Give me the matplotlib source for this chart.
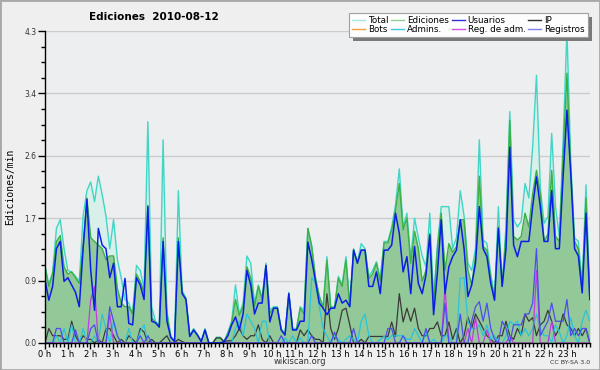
import numpy as np
import matplotlib
matplotlib.use("Agg")
import matplotlib.pyplot as plt
from matplotlib.lines import Line2D
from matplotlib.patches import Rectangle
from matplotlib.ticker import MultipleLocator, FixedLocator, FormatStrFormatter

# --- data: edits per minute, one value every 10 minutes (144 points) ---
total = [
    1.07, 0.80, 0.98, 1.58, 1.70, 1.30,
    1.00, 0.98, 0.92, 0.85, 1.75, 2.10,
    2.22, 1.95, 2.30, 2.05, 1.75, 1.30,
    1.70, 1.15, 0.90, 0.60, 0.55, 0.40,
    1.07, 1.00, 0.75, 3.05, 0.50, 0.30,
    0.25, 2.80, 0.45, 0.10, 0.02, 2.10,
    0.72, 0.62, 0.10, 0.20, 0.12, 0.02,
    0.20, 0.00, 0.00, 0.08, 0.08, 0.02,
    0.15, 0.30, 0.80, 0.40, 0.55, 1.20,
    1.10, 0.55, 0.80, 0.62, 1.10, 0.45,
    0.50, 0.50, 0.20, 0.12, 0.70, 0.20,
    0.20, 0.50, 0.45, 1.58, 1.35, 0.90,
    0.65, 0.50, 1.19, 0.50, 0.50, 0.92,
    0.80, 1.19, 0.52, 1.30, 1.12, 1.37,
    1.30, 0.92, 1.00, 1.12, 0.88, 1.40,
    1.40, 1.60, 1.90, 2.40, 1.60, 1.79,
    1.15, 1.72, 1.45, 1.20, 1.05, 1.79,
    0.60, 1.35, 1.88, 1.88, 1.88, 1.30,
    1.45, 2.10, 1.75, 1.10, 1.00, 1.30,
    2.80, 1.42, 1.37, 0.95, 0.64, 1.88,
    0.80, 1.60, 3.19, 1.70, 1.60, 1.68,
    2.20, 2.00, 2.70, 3.69, 2.15, 1.65,
    1.74, 2.89, 1.88, 1.47, 2.80, 4.30,
    2.50, 1.45, 1.40, 0.82, 2.18, 0.65,
]
ediciones = [
    1.05, 0.78, 0.95, 1.40, 1.48, 1.05,
    0.95, 0.98, 0.90, 0.82, 1.35, 2.00,
    1.45, 1.40, 1.35, 1.30, 1.15, 1.20,
    1.20, 0.75, 0.55, 0.50, 0.50, 0.40,
    0.95, 0.85, 0.70, 1.90, 0.35, 0.28,
    0.22, 1.45, 0.40, 0.08, 0.02, 1.45,
    0.70, 0.60, 0.09, 0.18, 0.11, 0.02,
    0.18, 0.00, 0.00, 0.07, 0.07, 0.02,
    0.13, 0.28, 0.60, 0.38, 0.50, 1.05,
    0.90, 0.50, 0.78, 0.60, 1.07, 0.41,
    0.48, 0.48, 0.18, 0.11, 0.68, 0.18,
    0.18, 0.48, 0.40, 1.58, 1.33, 0.89,
    0.64, 0.48, 1.14, 0.48, 0.48, 0.89,
    0.78, 1.14, 0.50, 1.28, 1.10, 1.28,
    1.28, 0.89, 0.95, 1.10, 0.85, 1.38,
    1.38, 1.56, 1.83, 2.20, 1.56, 1.72,
    1.10, 1.54, 1.30, 0.85, 1.00, 1.51,
    0.55, 1.30, 1.79, 1.00, 1.37, 1.25,
    1.33, 1.70, 1.70, 1.00, 0.80, 1.20,
    2.30, 1.33, 1.28, 0.89, 0.59, 1.60,
    0.78, 1.50, 3.07, 1.47, 1.42, 1.47,
    1.79, 1.60, 2.06, 2.38, 2.06, 1.40,
    1.50, 2.38, 1.47, 1.40, 2.60, 3.72,
    2.40, 1.40, 1.30, 0.75, 2.00, 0.60,
]
usuarios = [
    0.87, 0.59, 0.78, 1.30, 1.40, 0.85,
    0.90, 0.80, 0.70, 0.50, 1.30, 1.98,
    1.00, 0.45, 1.58, 1.35, 1.30, 0.90,
    1.10, 0.50, 0.50, 0.89, 0.27, 0.25,
    0.90, 0.80, 0.60, 1.88, 0.30, 0.28,
    0.22, 1.40, 0.30, 0.08, 0.02, 1.40,
    0.68, 0.60, 0.09, 0.18, 0.11, 0.02,
    0.18, 0.00, 0.00, 0.00, 0.00, 0.02,
    0.10, 0.25, 0.36, 0.18, 0.40, 1.00,
    0.80, 0.40, 0.55, 0.55, 1.07, 0.29,
    0.48, 0.48, 0.18, 0.11, 0.68, 0.18,
    0.18, 0.30, 0.30, 1.39, 1.15, 0.85,
    0.55, 0.48, 0.39, 0.48, 0.48, 0.68,
    0.55, 0.59, 0.50, 1.28, 1.10, 1.28,
    1.28, 0.78, 0.78, 0.98, 0.68, 1.28,
    1.28, 1.35, 1.79, 1.51, 0.98, 1.19,
    0.68, 1.33, 0.82, 0.68, 0.94, 1.49,
    0.39, 0.97, 1.70, 0.68, 1.05, 1.19,
    1.28, 1.70, 1.30, 0.64, 0.80, 1.10,
    1.88, 1.30, 1.19, 0.82, 0.59, 1.58,
    0.78, 1.30, 2.70, 1.35, 1.19, 1.40,
    1.40, 1.40, 1.88, 2.29, 1.88, 1.40,
    1.40, 2.10, 1.30, 1.30, 2.30, 3.21,
    2.34, 1.30, 1.20, 0.69, 1.79, 0.60,
]
ip = [
    0.00, 0.20, 0.10, 0.10, 0.10, 0.05,
    0.05, 0.30, 0.10, 0.00, 0.10, 0.05,
    0.05, 0.00, 0.05, 0.00, 0.20, 0.20,
    0.10, 0.00, 0.05, 0.00, 0.10, 0.05,
    0.00, 0.20, 0.15, 0.00, 0.05, 0.00,
    0.00, 0.05, 0.10, 0.00, 0.00, 0.05,
    0.02, 0.00, 0.00, 0.00, 0.00, 0.00,
    0.00, 0.00, 0.00, 0.07, 0.07, 0.02,
    0.03, 0.03, 0.10, 0.20, 0.10, 0.05,
    0.10, 0.10, 0.25, 0.05, 0.00, 0.10,
    0.00, 0.00, 0.00, 0.00, 0.00, 0.00,
    0.00, 0.18, 0.10, 0.18, 0.10, 0.05,
    0.05, 0.00, 0.68, 0.20, 0.05, 0.20,
    0.45, 0.48, 0.25, 0.00, 0.00, 0.05,
    0.00, 0.09, 0.09, 0.09, 0.09, 0.09,
    0.09, 0.29, 0.09, 0.68, 0.29, 0.48,
    0.30, 0.48, 0.20, 0.10, 0.10, 0.20,
    0.20, 0.29, 0.10, 0.10, 0.29, 0.05,
    0.20, 0.00, 0.10, 0.36, 0.20, 0.40,
    0.30, 0.20, 0.10, 0.05, 0.00, 0.10,
    0.10, 0.30, 0.10, 0.05, 0.20, 0.10,
    0.40, 0.30, 0.35, 0.10, 0.25, 0.30,
    0.45, 0.30, 0.10, 0.20, 0.40, 0.25,
    0.20, 0.10, 0.20, 0.10, 0.20, 0.00,
]
admins = [
    0.00, 0.00, 0.00, 0.10, 0.00, 0.20,
    0.00, 0.25, 0.00, 0.00, 0.20, 0.00,
    0.00, 0.10, 0.00, 0.40, 0.20, 0.00,
    0.30, 0.10, 0.00, 0.00, 0.20, 0.00,
    0.00, 0.15, 0.25, 0.00, 0.00, 0.00,
    0.00, 0.00, 0.00, 0.00, 0.00, 0.00,
    0.00, 0.00, 0.00, 0.00, 0.00, 0.00,
    0.00, 0.00, 0.00, 0.00, 0.00, 0.00,
    0.00, 0.00, 0.20, 0.30, 0.10, 0.40,
    0.30, 0.20, 0.00, 0.30, 0.30, 0.00,
    0.00, 0.00, 0.00, 0.07, 0.00, 0.10,
    0.00, 0.07, 0.00, 0.00, 0.90, 0.82,
    0.50, 0.20, 0.10, 0.00, 0.10, 0.05,
    0.00, 0.05, 0.10, 0.05, 0.00, 0.30,
    0.40, 0.10, 0.00, 0.00, 0.05, 0.09,
    0.05, 0.10, 0.10, 0.10, 0.10, 0.05,
    0.05, 0.20, 0.10, 0.00, 0.15, 0.00,
    0.05, 0.00, 0.00, 0.10, 0.10, 0.00,
    0.00, 0.89, 0.90, 0.30, 0.20, 0.20,
    0.25, 0.10, 0.25, 0.05, 0.10, 0.00,
    0.00, 0.10, 0.30, 0.25, 0.30, 0.10,
    0.20, 0.10, 0.20, 0.40, 0.20, 0.10,
    0.10, 0.00, 0.25, 0.15, 0.00, 0.10,
    0.35, 0.10, 0.00, 0.30, 0.45, 0.30,
]
reg_adm = [0.0] * 144
for i, v in [(12, 0.60), (13, 0.78), (17, 0.40), (105, 0.77), (111, 0.20),
             (113, 0.35), (116, 0.18), (122, 0.10), (129, 1.00), (133, 0.30)]:
    reg_adm[i] = v
registros = [0.0] * 144
for i, v in [(3, 0.20), (4, 0.20), (8, 0.18), (12, 0.20), (13, 0.25), (17, 0.50),
             (18, 0.30), (19, 0.10), (25, 0.10), (27, 0.10), (62, 0.10), (70, 0.10),
             (76, 0.15), (81, 0.20), (90, 0.20), (91, 0.20), (94, 0.10), (100, 0.20),
             (105, 0.55), (109, 0.40), (112, 0.30), (113, 0.50), (114, 0.57),
             (115, 0.30), (116, 0.55), (117, 0.20), (118, 0.05), (120, 0.30),
             (121, 0.20), (123, 0.25), (124, 0.25), (125, 0.25), (126, 0.40),
             (127, 0.40), (128, 0.55), (129, 1.30), (130, 0.10), (131, 0.20),
             (132, 0.30), (133, 0.55), (134, 0.30), (135, 0.30), (136, 0.30),
             (137, 0.60), (138, 0.10), (139, 0.20), (140, 0.10), (141, 0.20),
             (142, 0.20)]:
    registros[i] = v
bots = [0.0] * 144

hour_labels = ["%d h" % h for h in range(24)]

x = np.linspace(0, 24, len(total))
ymax = max(total)

fig = plt.figure(figsize=(6, 3.7), dpi=100, facecolor="#efefef")
ax = fig.add_axes([0.075, 0.073, 0.908, 0.843])
ax.set_facecolor("#edeef0")

ax.fill_between(x, 0, total, color="#d9efea", lw=0, zorder=1)
ax.fill_between(x, 0, ediciones, color="#93c998", lw=0, zorder=1.1)
ax.plot(x, bots, color="#f0a040", lw=1, zorder=1.05)
ax.plot(x, total, color="#3fd6c6", lw=1, zorder=2)
ax.plot(x, ediciones, color="#3cb043", lw=1, zorder=2.1)
ax.plot(x, ip, color="#3a3a3a", lw=0.9, zorder=2.2)
ax.plot(x, admins, color="#28c4dc", lw=0.9, zorder=2.3)
ax.plot(x, reg_adm, color="#c23ce0", lw=0.9, zorder=2.4)
ax.plot(x, registros, color="#4c4cf0", lw=0.9, zorder=2.5)
ax.plot(x, usuarios, color="#0a1ee6", lw=1.1, zorder=2.6)

ax.set_xlim(0, 24)
ax.set_ylim(0, ymax)
ax.yaxis.set_major_locator(FixedLocator(np.linspace(0, ymax, 6)))
ax.yaxis.set_minor_locator(FixedLocator(np.linspace(0, ymax, 21)))
ax.yaxis.set_major_formatter(FormatStrFormatter("%.1f"))
ax.set_xticks(np.arange(24), labels=hour_labels)
ax.xaxis.set_minor_locator(MultipleLocator(1 / 6))
ax.grid(axis="y", which="major", color="#cccccc", lw=1, zorder=0.5)
ax.set_axisbelow(True)

for s in ["top", "right"]:
    ax.spines[s].set_visible(False)
for s in ["left", "bottom"]:
    ax.spines[s].set_color("black")
    ax.spines[s].set_linewidth(1)
    ax.spines[s].set_zorder(5)

ax.tick_params(axis="y", which="major", length=5, width=1, labelsize=5.5,
               labelcolor="#333333", pad=1)
ax.tick_params(axis="y", which="minor", length=3, width=1)
ax.tick_params(axis="x", which="major", length=4, width=1, labelsize=6, pad=1)
ax.tick_params(axis="x", which="minor", length=3, width=1)

ax.set_ylabel("Ediciones/min", family="DejaVu Sans Mono", fontsize=7)
ax.yaxis.set_label_coords(-0.055, 0.5)

fig.text(154 / 600, 1 - 17 / 370, "Ediciones  2010-08-12", ha="center",
         va="center", fontsize=7.5, fontweight="bold")
fig.text(0.5, 1 - 362 / 370, "wikiscan.org", ha="center", va="center",
         fontsize=6, color="#333333")
fig.text(590 / 600, 1 - 362 / 370, "CC BY-SA 3.0", ha="right", va="center",
         fontsize=4.5, color="#333333")

handles = [
    Line2D([], [], color="#a8e8e0", lw=1), Line2D([], [], color="#f0a040", lw=1),
    Line2D([], [], color="#90d090", lw=1), Line2D([], [], color="#40c8e0", lw=1),
    Line2D([], [], color="#3030e0", lw=1), Line2D([], [], color="#d050e0", lw=1),
    Line2D([], [], color="#303030", lw=1), Line2D([], [], color="#8080f0", lw=1),
]
labels = ["Total", "Bots", "Ediciones", "Admins.", "Usuarios", "Reg. de adm.",
          "IP", "Registros"]
leg = fig.legend(handles, labels, ncol=4, loc="upper right",
                 bbox_to_anchor=(592 / 600, 1 - 9 / 370), fontsize=6.3,
                 handlelength=1.5, handletextpad=0.35, columnspacing=0.3,
                 labelspacing=0.05, borderpad=0.3, frameon=True, fancybox=False,
                 shadow=False, framealpha=1)
leg.get_frame().set_edgecolor("#a0a0a0")
leg.get_frame().set_linewidth(0.8)
leg.get_frame().set_facecolor("#fdfdfd")
leg.set_zorder(10)

# drop shadow behind the legend box
fig.canvas.draw()
bb = leg.get_window_extent().transformed(fig.transFigure.inverted())
fig.patches.append(Rectangle((bb.x0 + 4 / 600, bb.y0 - 4 / 370), bb.width, bb.height,
                             transform=fig.transFigure, facecolor="#7a7a7a",
                             edgecolor="none", zorder=9))

fig.patches.append(Rectangle((0, 0), 1, 1, transform=fig.transFigure,
                             fill=False, edgecolor="#a8a8a8", lw=2))

fig.savefig("out.png", dpi=100, facecolor=fig.get_facecolor())
